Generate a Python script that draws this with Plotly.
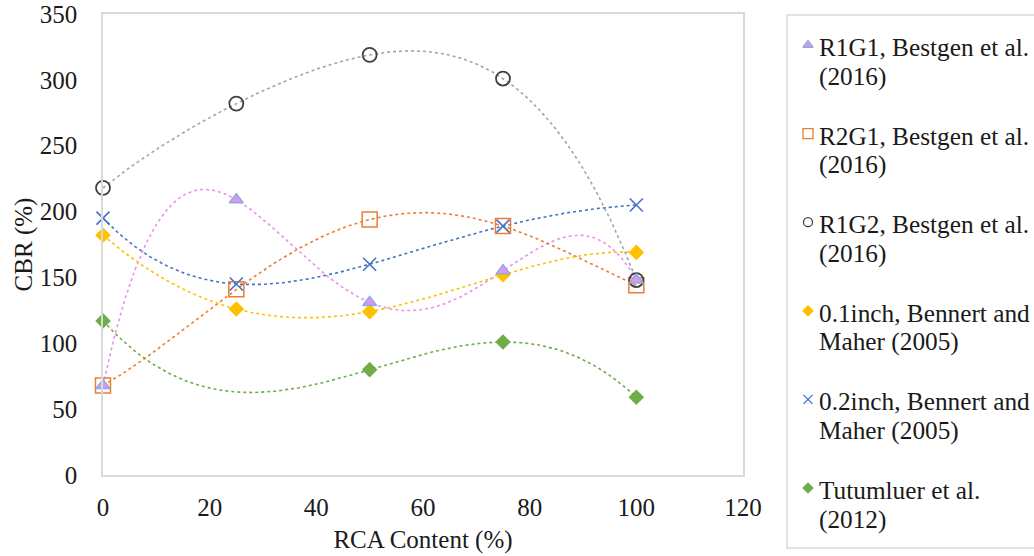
import numpy as np
import plotly.graph_objects as go

# ---- data ----
rca = [0, 25, 50, 75, 100]
r1g1 = [68, 209, 131, 155, 148]
r2g1 = [68, 141, 194, 189, 144]
r1g2 = [218, 282, 319, 301, 148]
inch01 = [182, 126, 124, 152, 169]
inch02 = [195, 145, 160, 189, 205]
tut_x = [0, 50, 75, 100]
tutumluer = [117, 80, 101, 59]

x_ticks = [0, 20, 40, 60, 80, 100, 120]
y_ticks = [0, 50, 100, 150, 200, 250, 300, 350]

legend_lines = [("R1G1, Bestgen et al.", "(2016)"),
                ("R2G1, Bestgen et al.", "(2016)"),
                ("R1G2, Bestgen et al.", "(2016)"),
                ("0.1inch, Bennert and", "Maher (2005)"),
                ("0.2inch, Bennert and", "Maher (2005)"),
                ("Tutumluer et al.", "(2012)")]

series = [
    dict(x=rca, y=r1g1, sym="triangle-up", size=12, fill="#d59bf0", edge="#8faadc", ew=1.5, trend="#ee8eee"),
    dict(x=rca, y=r2g1, sym="square-open", size=15, fill="#ed7d31", edge="#ed7d31", ew=1.5, trend="#ed7d31"),
    dict(x=rca, y=r1g2, sym="circle-open", size=14, fill="#404040", edge="#404040", ew=1.8, trend="#a5a5a5"),
    dict(x=rca, y=inch01, sym="diamond", size=12, fill="#ffc000", edge="#ffc000", ew=0, trend="#ffc000"),
    dict(x=rca, y=inch02, sym="x-thin-open", size=13, fill="#4472c4", edge="#5b7fcc", ew=1.6, trend="#4472c4"),
    dict(x=tut_x, y=tutumluer, sym="diamond", size=12, fill="#70ad47", edge="#70ad47", ew=0, trend="#70ad47"),
]
legend_sizes = [9, 10, 9, 9, 9, 9]

W, H = 1034, 556
PL, PR, PT, PB = 103, 743, 14, 475   # plot area in pixels

fig = go.Figure()

# polynomial trendlines (as in the spreadsheet chart)
for s in series:
    deg = min(4, len(s["x"]) - 1)
    coef = np.polyfit(s["x"], s["y"], deg)
    xs = np.linspace(min(s["x"]), max(s["x"]), 300)
    fig.add_trace(go.Scatter(x=xs, y=np.polyval(coef, xs), mode="lines",
                             line=dict(color=s["trend"], width=1.6, dash="dot"),
                             showlegend=False, hoverinfo="skip"))

# markers; R1G1 drawn last so it sits on top
for i in [1, 2, 3, 4, 5, 0]:
    s = series[i]
    fig.add_trace(go.Scatter(
        x=s["x"], y=s["y"], mode="markers", name=legend_lines[i][0],
        showlegend=False, cliponaxis=False,
        marker=dict(symbol=s["sym"], size=s["size"], color=s["fill"],
                    line=dict(color=s["edge"], width=s["ew"]))))

# ---- hand-drawn legend on a pixel-space overlay axis ----
font = "Liberation Serif, Times New Roman, serif"
LEG_LEFT, LEG_TOP, LEG_BOTTOM = 787, 15, 548
SYM_X, TEXT_X = 808, 817
ROW0, ROW_STEP, LINE_STEP = 46, 88.6, 29

annotations = []
for i, s in enumerate(series):
    yrow = ROW0 + i * ROW_STEP
    fig.add_trace(go.Scatter(
        x=[SYM_X], y=[yrow - 1], xaxis="x2", yaxis="y2", mode="markers",
        showlegend=False, hoverinfo="skip", cliponaxis=False,
        marker=dict(symbol=s["sym"], size=legend_sizes[i], color=s["fill"],
                    line=dict(color=s["edge"], width=min(s["ew"], 1.3)))))
    for j, txt in enumerate(legend_lines[i]):
        annotations.append(dict(
            text=txt, xref="x2", yref="y2", x=TEXT_X, y=yrow + 1 + j * LINE_STEP,
            xanchor="left", yanchor="middle", showarrow=False,
            font=dict(family=font, size=25.3, color="#1a1a1a")))

fig.update_layout(
    width=W, height=H,
    margin=dict(l=0, r=0, t=0, b=0, autoexpand=False),
    paper_bgcolor="white", plot_bgcolor="rgba(0,0,0,0)",
    font=dict(family=font, size=25, color="#1a1a1a"),
    showlegend=False,
    xaxis=dict(domain=[PL / W, PR / W], range=[0, 120], tickvals=x_ticks,
               showgrid=False, zeroline=False, showline=True, mirror=True,
               linecolor="#d9d9d9", linewidth=1.5, ticks="",
               ticklabelstandoff=9, tickfont=dict(size=25),
               title=dict(text="RCA Content (%)", standoff=11, font=dict(size=25))),
    yaxis=dict(domain=[(H - PB) / H, (H - PT) / H], range=[0, 350], tickvals=y_ticks,
               showgrid=False, zeroline=False, showline=True, mirror=True,
               linecolor="#d9d9d9", linewidth=1.5, ticks="",
               ticklabelstandoff=19, tickfont=dict(size=25),
               title=dict(text="CBR (%)", standoff=0, font=dict(size=25))),
    xaxis2=dict(domain=[0, 1], range=[0, W], visible=False, anchor="y2",
                fixedrange=True),
    yaxis2=dict(domain=[0, 1], range=[H, 0], visible=False, anchor="x2",
                fixedrange=True),
    annotations=annotations,
    shapes=[dict(type="rect", xref="x2", yref="y2",
                 x0=LEG_LEFT, x1=W + 20, y0=LEG_TOP, y1=LEG_BOTTOM,
                 line=dict(color="#d9d9d9", width=1.5), fillcolor="rgba(0,0,0,0)",
                 layer="below")],
)

fig.write_html("out.html")
